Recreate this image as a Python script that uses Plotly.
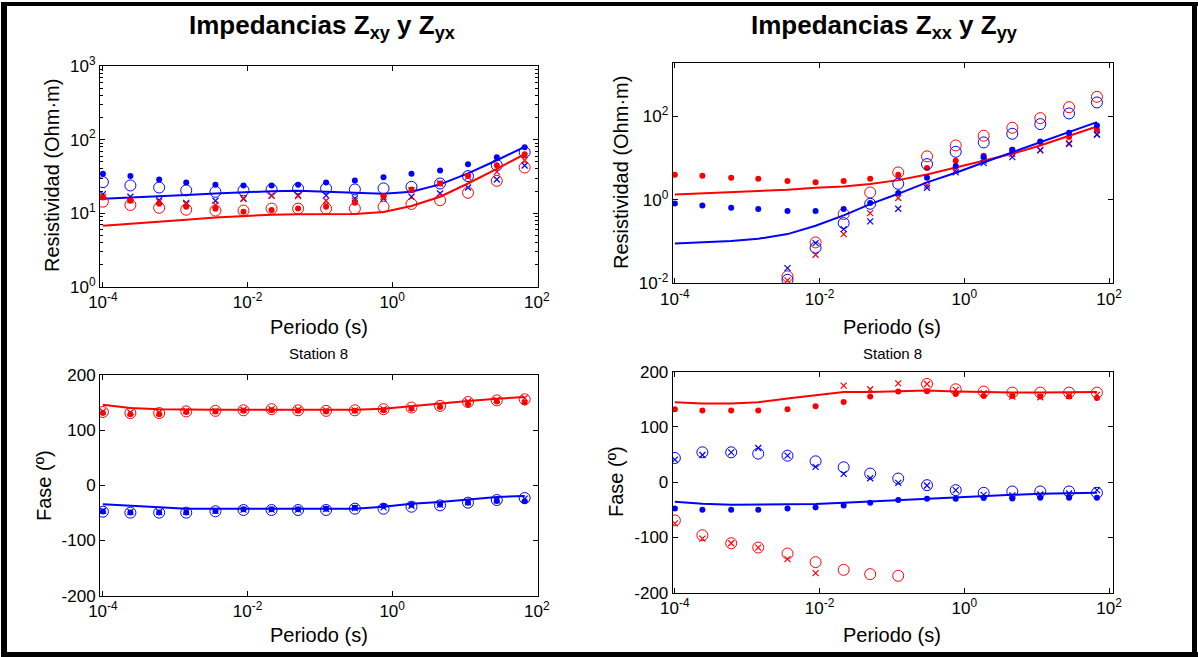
import plotly.graph_objects as go

# Periods (s) shared by all panels
period = [1.0e-4, 2.4e-4, 6.0e-4, 1.42e-3, 3.6e-3, 8.8e-3, 0.0215, 0.050,
          0.122, 0.305, 0.76, 1.85, 4.6, 11.2, 28.0, 68.0]

# Apparent resistivity, off-diagonal impedances (Ohm·m)
rho_xy_obs = [34.4, 32.0, 28.8, 26.2, 24.4, 23.9, 23.9, 24.4, 26.2, 27.9, 31.0, 34.4, 38.1, 46.5, 57.7, 78.7]
rho_xy_inv = [26.5, 23.9, 22.4, 20.5, 19.6, 20.5, 21.1, 21.8, 21.8, 21.1, 21.8, 22.9, 25.4, 32.0, 45.0, 67.5]
rho_xy_x = [18.2, 16.8, 15.1, 13.9, 14.8, 16.0, 17.5, 17.5, 17.5, 16.0, 15.8, 16.8, 18.6, 22.4, 28.8, 44.6]
rho_xy_mod = [15.8, 16.3, 17.0, 17.7, 18.6, 19.4, 20.0, 20.2, 19.8, 19.0, 18.5, 19.6, 24.7, 34.8, 52.6, 79.6]
rho_yx_obs = [16.4, 14.8, 13.5, 12.3, 11.5, 10.5, 11.1, 11.6, 12.3, 13.9, 17.1, 21.1, 25.4, 32.0, 45.0, 63.4]
rho_yx_inv = [14.4, 13.0, 11.9, 11.2, 10.9, 10.9, 11.6, 11.6, 11.6, 11.6, 12.3, 13.4, 15.1, 19.0, 27.6, 41.9]
rho_yx_x = [16.8, 15.1, 14.4, 13.4, 13.0, 15.6, 17.3, 17.1, 14.8, 14.8, 16.8, 20.7, 25.4, 31.3, 36.6, 52.6]
rho_yx_mod = [6.8, 7.2, 7.7, 8.2, 8.8, 9.3, 9.6, 9.7, 9.8, 9.8, 10.4, 12.6, 16.8, 25.4, 40.2, 63.4]

# Apparent resistivity, diagonal impedances (Ohm·m)
rho_xx_obs = [3.98, 3.77, 3.37, 3.19, 2.81, 2.65, 2.81, 3.19, 3.98, 5.75, 8.63, 11.4, 15.8, 24.2, 31.9, 47.9]
rho_xx_inv = [None, None, None, None, 0.0145, 0.0946, 0.453, 1.50, 4.53, 11.0, 20.1, 34.4, 53.5, 91.2, 167, 296]
rho_xx_x = [None, None, None, None, 0.0116, 0.0479, 0.150, 0.479, 1.10, 2.21, 5.06, 8.63, 12.5, 15.8, 22.9, 37.7]
rho_xx_mod = [1.34, 1.42, 1.50, 1.58, 1.74, 1.94, 2.09, 2.38, 2.96, 4.06, 5.97, 8.63, 12.7, 20.1, 34.4, 57.5]
rho_yy_obs = [0.817, 0.731, 0.643, 0.597, 0.535, 0.535, 0.597, 0.832, 1.45, 3.37, 6.43, 10.6, 15.8, 25.1, 40.6, 60.8]
rho_yy_inv = [None, None, None, None, 0.0120, 0.0705, 0.275, 0.802, 2.42, 7.18, 14.2, 23.8, 38.4, 65.5, 118, 217]
rho_yy_x = [None, None, None, None, 0.0229, 0.0912, 0.198, 0.302, 0.608, 1.94, 4.53, 7.59, 10.6, 15.3, 21.7, 36.3]
rho_yy_mod = [0.0895, 0.0946, 0.102, 0.116, 0.150, 0.238, 0.421, 0.787, 1.39, 2.61, 4.45, 7.87, 13.7, 23.8, 41.3, 73.1]

# Phases, off-diagonal (degrees)
ph_yx_obs = [131, 129, 129, 133, 134, 135, 136, 135, 134, 135, 136, 139, 142, 147, 152, 150]
ph_yx_inv = [133, 131, 131, 134, 135, 136, 138, 136, 135, 136, 138, 141, 144, 151, 154, 156]
ph_yx_x = [134, 132, 132, 135, 135, 137, 138, 137, 136, 136, 138, 141, 145, 152, 155, 158]
ph_yx_mod = [146, 140, 138, 137, 137, 137, 137, 137, 137, 137, 139, 144, 148, 153, 157, 160]
ph_xy_obs = [-47.5, -49, -49, -49, -46.5, -43.5, -43.5, -43.5, -42.3, -40.5, -37.5, -35, -34.5, -31.4, -28.4, -29]
ph_xy_inv = [-47.7, -49.5, -49.5, -49.5, -47, -44.7, -44.7, -44.7, -44.7, -42.3, -42.3, -38.7, -36.3, -31.4, -26.6, -23]
ph_xy_x = [-46, -48, -48, -48, -46, -44, -44, -44, -43, -41, -40, -37, -35, -31, -27, -24]
ph_xy_mod = [-34.4, -37.5, -39.9, -42.3, -42.3, -42.3, -42.3, -42.9, -42.3, -42.3, -38.7, -33.2, -30.2, -25.4, -21.1, -19.3]

# Phases, diagonal (degrees)
ph_xx_obs = [132, 129.7, 129.7, 129.7, 132, 137.5, 145.3, 155, 164, 164.6, 159.8, 156.2, 156.2, 155, 155, 152.6]
ph_xx_inv = [-69.1, -96.1, -110.5, -118.3, -129.1, -144.7, -158.6, -166.4, -169.4, 177.8, 168.2, 164, 162.2, 162.2, 162.2, 162.2]
ph_xx_x = [-74.5, -102.1, -110.5, -118.3, -139.3, -164.6, 174.8, 168.2, 179, 177.8, 167, 161, 155, 153.8, 156.2, 158]
ph_xx_mod = [144.7, 142.3, 142.3, 144.7, 151.4, 156.8, 163.4, 163.4, 164, 165.8, 164, 162.8, 162.2, 162.2, 162.8, 163.4]
ph_yy_obs = [-47.4, -49.8, -49.8, -49.8, -47.4, -45.6, -42, -37.2, -32.4, -30, -30, -28.8, -29.4, -28.2, -28.2, -28.2]
ph_yy_inv = [43.8, 54.1, 54.1, 51.7, 48, 37.8, 27, 15.6, 6.6, -5.4, -14.4, -19.2, -16.8, -16.8, -16.8, -19.2]
ph_yy_x = [40.8, 49.2, 54.1, 61.9, 48, 27.6, 15, 7.2, -1.2, -6, -14.4, -22.8, -24, -22.2, -20.4, -14.4]
ph_yy_mod = [-35.4, -39, -40.8, -40.8, -40.8, -39.6, -37.2, -34.8, -32.4, -29.4, -27.6, -25.2, -22.8, -21, -19.8, -19.2]

BLUE = "#0000FF"
RED = "#FF0000"
FONT = "Liberation Sans, Arial, Helvetica, sans-serif"
W, H = 1198, 657

fig = go.Figure()


def add_group(xa, ya, color, obs, inv, xs, mod):
    fig.add_trace(go.Scatter(x=period, y=obs, mode="markers", xaxis=xa, yaxis=ya,
                             marker=dict(symbol="circle", size=6, color=color),
                             showlegend=False))
    fig.add_trace(go.Scatter(x=period, y=inv, mode="markers", xaxis=xa, yaxis=ya,
                             marker=dict(symbol="circle-open", size=11, color=color,
                                         line=dict(width=1, color=color)),
                             showlegend=False))
    fig.add_trace(go.Scatter(x=period, y=xs, mode="markers", xaxis=xa, yaxis=ya,
                             marker=dict(symbol="x-thin-open", size=6, color=color,
                                         line=dict(width=1.2, color=color)),
                             showlegend=False))
    fig.add_trace(go.Scatter(x=period, y=mod, mode="lines", xaxis=xa, yaxis=ya,
                             line=dict(color=color, width=2), showlegend=False))


add_group("x", "y", BLUE, rho_xy_obs, rho_xy_inv, rho_xy_x, rho_xy_mod)
add_group("x", "y", RED, rho_yx_obs, rho_yx_inv, rho_yx_x, rho_yx_mod)
add_group("x2", "y2", RED, rho_xx_obs, rho_xx_inv, rho_xx_x, rho_xx_mod)
add_group("x2", "y2", BLUE, rho_yy_obs, rho_yy_inv, rho_yy_x, rho_yy_mod)
add_group("x3", "y3", RED, ph_yx_obs, ph_yx_inv, ph_yx_x, ph_yx_mod)
add_group("x3", "y3", BLUE, ph_xy_obs, ph_xy_inv, ph_xy_x, ph_xy_mod)
add_group("x4", "y4", RED, ph_xx_obs, ph_xx_inv, ph_xx_x, ph_xx_mod)
add_group("x4", "y4", BLUE, ph_yy_obs, ph_yy_inv, ph_yy_x, ph_yy_mod)


def px_x(p):
    return p / W


def px_y(p):
    return 1 - p / H


xticks = [1e-4, 1e-2, 1, 100]
xtick_text = ["10<sup>-4</sup>", "10<sup>-2</sup>", "10<sup>0</sup>", "10<sup>2</sup>"]

common = dict(showline=True, linecolor="black", linewidth=1, mirror="allticks",
              ticks="inside", ticklen=5, tickcolor="black", showgrid=False,
              zeroline=False, tickfont=dict(family=FONT, size=17, color="black"))


def xaxis(dom, rng, anchor):
    return dict(type="log", domain=dom, range=rng, anchor=anchor,
                tickmode="array", tickvals=xticks, ticktext=xtick_text, **common)


minor_vals = [m * 10 ** e for e in range(0, 3) for m in range(2, 10)]

fig.update_layout(
    width=W, height=H,
    margin=dict(l=0, r=0, t=0, b=0, autoexpand=False),
    paper_bgcolor="white", plot_bgcolor="white",
    font=dict(family=FONT, color="black"),
    xaxis=xaxis([px_x(100), px_x(537.5)], [-4.04, 2.01], "y"),
    yaxis=dict(type="log", domain=[px_y(287), px_y(66)], range=[0, 3], anchor="x",
               tickmode="array", tickvals=[1, 10, 100, 1000],
               ticktext=["10<sup>0</sup>", "10<sup>1</sup>", "10<sup>2</sup>", "10<sup>3</sup>"],
               minor=dict(tickmode="array", tickvals=minor_vals, ticks="inside",
                          ticklen=3, tickcolor="black"),
               **common),
    xaxis2=xaxis([px_x(672.7), px_x(1112.7)], [-4.03, 2.05], "y2"),
    yaxis2=dict(type="log", domain=[px_y(283.3), px_y(62.7)], range=[-2.005, 3.29], anchor="x2",
                tickmode="array", tickvals=[0.01, 1, 100],
                ticktext=["10<sup>-2</sup>", "10<sup>0</sup>", "10<sup>2</sup>"],
                **common),
    xaxis3=xaxis([px_x(100), px_x(537.5)], [-4.04, 2.01], "y3"),
    yaxis3=dict(domain=[px_y(595.7), px_y(375)], range=[-200, 200], anchor="x3",
                tickmode="array", tickvals=[-200, -100, 0, 100, 200],
                ticktext=["-200", "-100", "0", "100", "200"], **common),
    xaxis4=xaxis([px_x(672.7), px_x(1112.7)], [-4.03, 2.05], "y4"),
    yaxis4=dict(domain=[px_y(592.7), px_y(371.7)], range=[-200, 200], anchor="x4",
                tickmode="array", tickvals=[-200, -100, 0, 100, 200],
                ticktext=["-200", "-100", "0", "100", "200"], **common),
)


def label(text, x, y, size, angle=0, bold=False):
    fig.add_annotation(text=f"<b>{text}</b>" if bold else text,
                       x=px_x(x), y=px_y(y), xref="paper", yref="paper",
                       xanchor="center", yanchor="middle", showarrow=False,
                       textangle=angle, font=dict(family=FONT, size=size, color="black"))


label("Impedancias Z<sub>xy</sub> y Z<sub>yx</sub>", 322, 26, 26, bold=True)
label("Impedancias Z<sub>xx</sub> y Z<sub>yy</sub>", 884, 26, 26, bold=True)
label("Resistividad (Ohm·m)", 52, 176, 20, angle=-90)
label("Resistividad (Ohm·m)", 621, 173, 20, angle=-90)
label("Fase (º)", 44, 486, 20, angle=-90)
label("Fase (º)", 616, 482, 20, angle=-90)
label("Periodo (s)", 318.75, 327, 20)
label("Periodo (s)", 892, 327, 20)
label("Periodo (s)", 318.75, 635, 20)
label("Periodo (s)", 892, 635, 20)
label("Station 8", 318.75, 353, 15)
label("Station 8", 892, 353, 15)

# Black frame around the figure
for x0, y0, x1, y1 in [(1, 2, 7, 657), (1, 2, 1198, 6), (1192, 2, 1197, 657), (1, 652, 1198, 657)]:
    fig.add_shape(type="rect", xref="paper", yref="paper",
                  x0=px_x(x0), x1=px_x(x1), y0=px_y(y1), y1=px_y(y0),
                  fillcolor="black", line=dict(width=0), layer="above")

# Page without body margin so the figure fills the window exactly
fig.write_html("out.html",
               post_script="document.body.style.margin='0';"
                           "document.body.style.overflow='hidden';")
